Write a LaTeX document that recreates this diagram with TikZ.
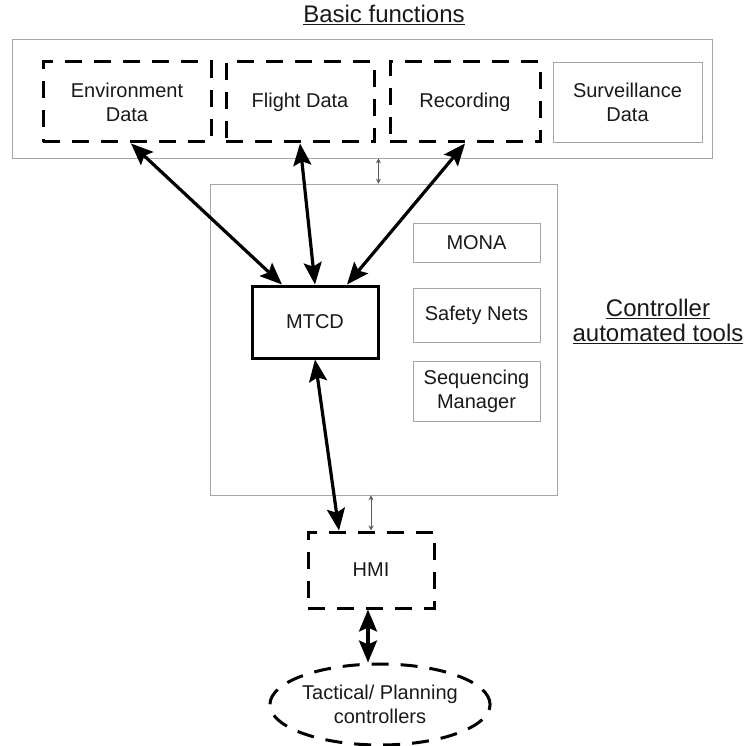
\documentclass[tikz,border=0pt]{standalone}
\usepackage{fontspec}
\setmainfont{Liberation Sans}
\usetikzlibrary{arrows.meta,shapes.geometric}

\begin{document}
\begin{tikzpicture}[x=1pt,y=-1pt,
  txt/.style={font=\fontsize{20}{24}\selectfont, align=center, text=black!90},
  heading/.style={font=\fontsize{24}{25}\selectfont, align=center, text=black!90},
  groupbox/.style={draw=black!35, line width=0.7pt, inner sep=0pt},
  toolbox/.style={draw=black!35, line width=0.7pt, inner sep=0pt, txt},
  dashbox/.style={draw=black, line width=3pt, dash pattern=on 17pt off 12pt, inner sep=0pt, txt},
  solidbox/.style={draw=black, line width=3pt, inner sep=0pt, txt},
  link/.style={line width=3.2pt, {Stealth[length=22pt,width=18pt,inset=4pt]}-{Stealth[length=22pt,width=18pt,inset=4pt]}},
  hint/.style={draw=black!65, line width=0.7pt, {Stealth[length=5pt,width=5pt]}-{Stealth[length=5pt,width=5pt]}}
]
\useasboundingbox (0,0) rectangle (746,746);

% headings
\node[heading] (bfTitle) at (384,15) {\underline{Basic functions}};
\node[heading] (catTitle) at (658,321) {\underline{Controller}\\\underline{automated tools}};

% basic functions group
\node[groupbox, minimum width=700, minimum height=119] (basic) at (362,98.5) {};
\node[dashbox, minimum width=168, minimum height=80] (env) at (127,102) {Environment\\Data};
\node[dashbox, minimum width=148, minimum height=80] (flight) at (300,102) {Flight Data};
\node[dashbox, minimum width=150, minimum height=80] (rec) at (465,102) {Recording};
\node[toolbox, minimum width=149, minimum height=80] (surv) at (627.5,102) {Surveillance\\Data};

% controller automated tools group
\node[groupbox, minimum width=347, minimum height=311] (tools) at (383.5,339.5) {};
\node[toolbox, minimum width=127, minimum height=39] (mona) at (476.5,242.5) {MONA};
\node[toolbox, minimum width=127, minimum height=54] (safety) at (476.5,315) {Safety Nets};
\node[toolbox, minimum width=127, minimum height=60] (seq) at (476.5,391) {Sequencing\\Manager};
\node[solidbox, minimum width=126, minimum height=72] (mtcd) at (315,322) {MTCD};

% human side
\node[dashbox, minimum width=126, minimum height=76] (hmi) at (371,570) {HMI};
\node[dashbox, ellipse, minimum width=216, minimum height=81] (ctl) at (380,704.5) {Tactical/ Planning\\controllers};

% data exchanges with MTCD
\draw[link] ([xshift=4pt]env.south) -- ([xshift=-33pt]mtcd.north);
\draw[link] (flight.south) -- (mtcd.north);
\draw[link] (rec.south) -- ([xshift=32pt]mtcd.north);
\draw[link] (mtcd.south) -- ([xshift=-32pt]hmi.north);
\draw[link] ([xshift=-3pt]hmi.south) -- ([xshift=-3pt]hmi.south |- ctl.north);

% interfaces between layers
\draw[hint] ([xshift=-5pt]tools.north) -- ([xshift=-5pt]tools.north |- basic.south);
\draw[hint] (hmi.north) -- (hmi.north |- tools.south);
\end{tikzpicture}
\end{document}
